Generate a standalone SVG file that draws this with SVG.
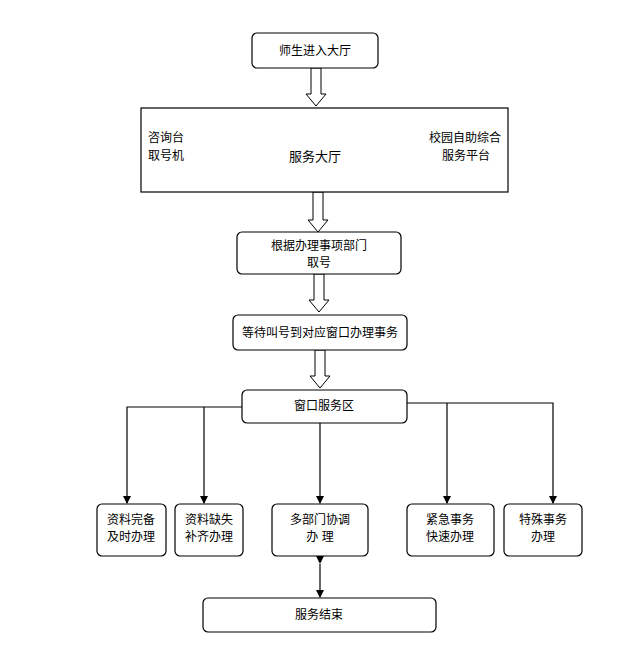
<svg xmlns="http://www.w3.org/2000/svg" width="637" height="669" viewBox="0 0 637 669">
<style>
.b{fill:#fff;stroke:#000;stroke-width:1.2}
.t{font-family:"Liberation Sans","Noto Sans CJK SC",sans-serif;font-size:12px;text-anchor:middle;fill:#000}
.h{fill:#fff;stroke:#000;stroke-width:1}
.l{fill:none;stroke:#000;stroke-width:1.2}
</style>
<defs>
<marker id="a" markerWidth="8" markerHeight="8" refX="7" refY="4" orient="auto" markerUnits="userSpaceOnUse"><path d="M0,0L8,4L0,8z" fill="#000"/></marker>
</defs>
<rect width="637" height="669" fill="#fff"/>
<g id="connectors">
<path class="h" d="M311,68h10v26h5l-10,12l-10,-12h5z"/>
<path class="h" d="M313,192h10v28h5l-10,12l-10,-12h5z"/>
<path class="h" d="M314,274h10v26h5l-10,12l-10,-12h5z"/>
<path class="h" d="M315,350h10v26h5l-10,12l-10,-12h5z"/>
<path class="l" d="M242,407H127V503" marker-end="url(#a)"/>
<path class="l" d="M204,407V503" marker-end="url(#a)"/>
<path class="l" d="M320,423V503" marker-end="url(#a)"/>
<path class="l" d="M407,403H553V503" marker-end="url(#a)"/>
<path class="l" d="M447,403V503" marker-end="url(#a)"/>
<path class="l" d="M320,564V597" marker-end="url(#a)"/>
<path d="M316,556h8l-4,8z" fill="#000"/>
</g>
<g id="n1"><rect class="b" x="252" y="33" width="126" height="35" rx="5"/><text class="t" x="315" y="55">师生进入大厅</text></g>
<g id="n2"><rect class="b" x="141" y="108" width="367" height="84"/>
<text class="t" x="166" y="142">咨询台</text><text class="t" x="166" y="160">取号机</text>
<text class="t" x="315" y="161" style="font-size:13px">服务大厅</text>
<text class="t" x="465" y="142">校园自助综合</text><text class="t" x="466" y="160">服务平台</text></g>
<g id="n3"><rect class="b" x="237" y="232" width="164" height="42" rx="5"/><text class="t" x="319" y="250">根据办理事项部门</text><text class="t" x="319" y="267">取号</text></g>
<g id="n4"><rect class="b" x="233" y="315" width="174" height="35" rx="5"/><text class="t" x="320" y="337">等待叫号到对应窗口办理事务</text></g>
<g id="n5"><rect class="b" x="242" y="390" width="165" height="33" rx="5"/><text class="t" x="324" y="410">窗口服务区</text></g>
<g id="b1"><rect class="b" x="97" y="504" width="69" height="52" rx="5"/><text class="t" x="131" y="524">资料完备</text><text class="t" x="131" y="541">及时办理</text></g>
<g id="b2"><rect class="b" x="175" y="504" width="68" height="52" rx="5"/><text class="t" x="209" y="524">资料缺失</text><text class="t" x="209" y="541">补齐办理</text></g>
<g id="b3"><rect class="b" x="272" y="504" width="96" height="52" rx="5"/><text class="t" x="320" y="524">多部门协调</text><text class="t" x="320" y="541">办 理</text></g>
<g id="b4"><rect class="b" x="407" y="504" width="87" height="52" rx="5"/><text class="t" x="450" y="524">紧急事务</text><text class="t" x="450" y="541">快速办理</text></g>
<g id="b5"><rect class="b" x="504" y="504" width="78" height="52" rx="5"/><text class="t" x="543" y="524">特殊事务</text><text class="t" x="543" y="541">办理</text></g>
<g id="end"><rect class="b" x="203" y="598" width="233" height="34" rx="5"/><text class="t" x="319" y="619">服务结束</text></g>
</svg>
